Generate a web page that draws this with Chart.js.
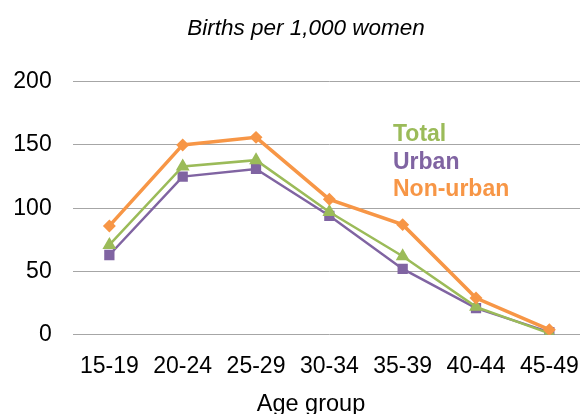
<!DOCTYPE html>
<html lang="en">
<head>
    <meta charset="UTF-8">
    <title>Births per 1,000 women</title>
    <script src="https://cdn.jsdelivr.net/npm/chart.js"></script>
    <style>
        html, body { margin: 0; padding: 0; background: #fff; overflow: hidden; }
        #wrap { width: 612px; height: 414px; }
    </style>
</head>
<body>
    <div id="wrap"><canvas id="lineChart"></canvas></div>

    <script>
        // Chart data
        const ageGroups = ['15-19', '20-24', '25-29', '30-34', '35-39', '40-44', '45-49'];
        const totalRates = [71, 133, 138, 97, 62, 22, 1];
        const urbanRates = [63, 125, 131, 94, 52, 21, 2];
        const nonUrbanRates = [86, 150, 156, 107, 87, 29, 4];
        const yTicks = [0, 50, 100, 150, 200];

        const green = '#9BBB59';
        const purple = '#8064A2';
        const orange = '#F79646';
        const font = '"Liberation Sans", Arial, sans-serif';

        // Title, axis title and text legend drawn on top, like the original
        const textLegend = {
            id: 'textLegend',
            afterDraw(chart) {
                const ctx = chart.ctx;
                ctx.save();
                ctx.textBaseline = 'alphabetic';
                ctx.fillStyle = '#000';
                ctx.textAlign = 'center';

                ctx.font = 'italic 22.5px ' + font;
                ctx.fillText('Births per 1,000 women', 306, 35);

                ctx.font = '23.5px ' + font;
                ctx.fillText('Age group', 311, 411);

                ctx.font = 'bold 23px ' + font;
                ctx.textAlign = 'left';
                const items = [['Total', green], ['Urban', purple], ['Non-urban', orange]];
                items.forEach((it, i) => {
                    ctx.fillStyle = it[1];
                    ctx.fillText(it[0], 393, 141 + i * 27.5);
                });
                ctx.restore();
            }
        };

        new Chart(document.getElementById('lineChart'), {
            type: 'line',
            data: {
                labels: ageGroups,
                datasets: [
                    {
                        label: 'Non-urban',
                        data: nonUrbanRates,
                        borderColor: orange,
                        backgroundColor: orange,
                        borderWidth: 3.5,
                        pointStyle: 'rectRot',
                        pointRadius: 4,
                        tension: 0
                    },
                    {
                        label: 'Total',
                        data: totalRates,
                        borderColor: green,
                        backgroundColor: green,
                        borderWidth: 2.5,
                        pointStyle: 'triangle',
                        pointRadius: 5.5,
                        tension: 0
                    },
                    {
                        label: 'Urban',
                        data: urbanRates,
                        borderColor: purple,
                        backgroundColor: purple,
                        borderWidth: 2.5,
                        pointStyle: 'rect',
                        pointRadius: 5.5,
                        tension: 0
                    }
                ]
            },
            options: {
                responsive: true,
                maintainAspectRatio: false,
                animation: false,
                layout: { padding: { left: 13, right: 26, top: 81.7, bottom: 0 } },
                plugins: {
                    legend: { display: false },
                    tooltip: { enabled: false },
                    title: { display: false }
                },
                scales: {
                    x: {
                        offset: true,
                        grid: { display: false },
                        border: { display: false },
                        afterFit(axis) { axis.height = 79.3; },
                        ticks: {
                            color: '#000',
                            padding: 10,
                            maxRotation: 0,
                            autoSkip: false,
                            font: { family: font, size: 23 }
                        }
                    },
                    y: {
                        min: 0,
                        max: 200,
                        afterFit(axis) { axis.width = 59.7; },
                        afterBuildTicks(axis) {
                            axis.ticks = yTicks.map(v => ({ value: v }));
                        },
                        grid: { color: '#a6a6a6', lineWidth: 1, drawTicks: false },
                        border: { display: false },
                        ticks: {
                            color: '#000',
                            padding: 21,
                            font: { family: font, size: 23 }
                        }
                    }
                }
            },
            plugins: [textLegend]
        });
    </script>
</body>
</html>
